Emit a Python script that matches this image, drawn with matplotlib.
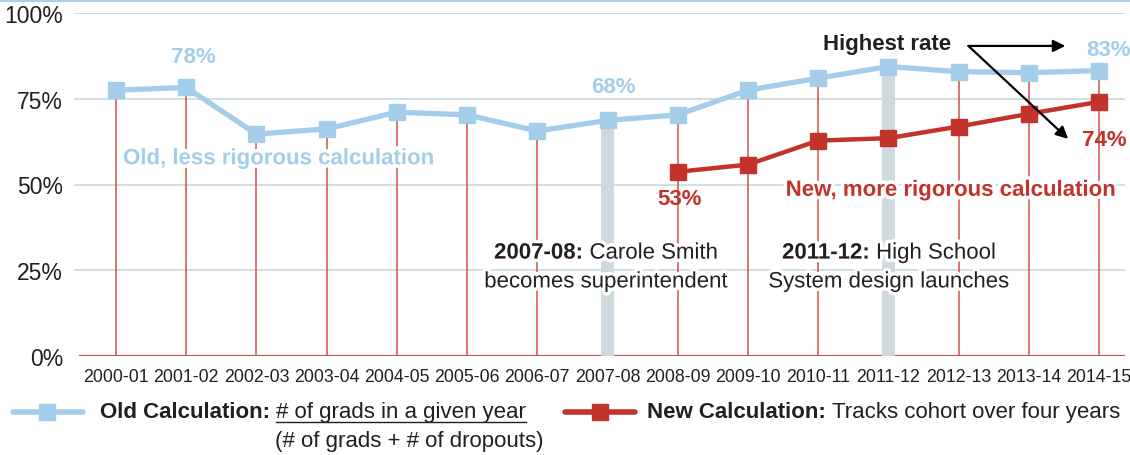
import matplotlib
matplotlib.use("Agg")
import matplotlib.pyplot as plt
import matplotlib.patheffects as pe
from matplotlib import font_manager
from matplotlib.lines import Line2D
from matplotlib.transforms import IdentityTransform

plt.rcParams['font.family'] = ['Liberation Sans', 'DejaVu Sans']

years = ["2000-01", "2001-02", "2002-03", "2003-04", "2004-05", "2005-06", "2006-07",
         "2007-08", "2008-09", "2009-10", "2010-11", "2011-12", "2012-13", "2013-14", "2014-15"]
old_rate = [77.5, 78.3, 64.7, 66.2, 71.1, 70.3, 65.6, 68.7, 70.3, 77.5, 81.0, 84.4, 82.9, 82.6, 83.2]
new_years = years[8:]
new_rate = [53.7, 55.8, 62.8, 63.5, 66.9, 70.6, 74.1]
event_years = ["2007-08", "2011-12"]
yticks = [0, 25, 50, 75, 100]

BLUE = "#a3cde9"
RED = "#c1332b"
DROP = "#d4504a"
GRAY = "#cfd9de"
GRID = "#cddbe4"
INK = "#231f20"

# condensed face for the tick labels, if there is one
try:
    font_manager.findfont(font_manager.FontProperties(family='Liberation Sans Narrow'),
                          fallback_to_default=False)
    NARROW = ['Liberation Sans Narrow']
    xsize, ysize = 15, 19.5
except ValueError:
    NARROW = ['Liberation Sans']
    xsize, ysize = 12.8, 16.5

W, H = 1130, 456
fig = plt.figure(figsize=(W / 100, H / 100), dpi=100)
ax = fig.add_axes([74 / W, (H - 357) / H, (1125 - 74) / W, (357 - 14) / H])

x = list(range(len(years)))
xn = [years.index(y) for y in new_years]
xe = [years.index(y) for y in event_years]

ax.set_xlim(-0.598, 14.37)
ax.set_ylim(0, 100)

for t in yticks[1:]:
    ax.axhline(t, color=GRID, lw=1.3, zorder=0)
ax.axhline(0, xmin=0.006, color=DROP, lw=1.6, zorder=1)

ax.vlines(x, 0, old_rate, color=DROP, lw=1.1, zorder=1)
ax.bar(xe, [old_rate[i] for i in xe], width=0.18, color=GRAY, zorder=1.5)

ax.plot(x, old_rate, color=BLUE, lw=3.8, marker='s', ms=12, zorder=3, clip_on=False)
ax.plot(xn, new_rate, color=RED, lw=3.2, marker='s', ms=11.5, zorder=4, clip_on=False)

ax.set_xticks(x)
ax.set_xticklabels(years, fontsize=xsize, color=INK, family=NARROW)
ax.set_yticks(yticks)
ax.set_yticklabels([f"{t}%" for t in yticks], fontsize=ysize, color=INK, family=NARROW)
ax.tick_params(length=0, pad=8)
ax.tick_params(axis='x', pad=9)
for s in ax.spines.values():
    s.set_visible(False)

halo = [pe.withStroke(linewidth=5, foreground='white')]

ax.text(1.1, 87.2, "78%", color=BLUE, fontsize=16, fontweight='bold', ha='center', va='center')
ax.text(7.08, 78.7, "68%", color=BLUE, fontsize=16, fontweight='bold', ha='center', va='center')
ax.text(14.13, 89.5, "83%", color=BLUE, fontsize=16, fontweight='bold', ha='center', va='center')
ax.text(8.03, 45.8, "53%", color=RED, fontsize=16, fontweight='bold', ha='center', va='center')
ax.text(14.07, 63.0, "74%", color=RED, fontsize=16, fontweight='bold', ha='center', va='center')

ax.text(0.1, 57.5, "Old, less rigorous calculation", color=BLUE, fontsize=16,
        fontweight='bold', ha='left', va='center', path_effects=halo, zorder=5)
ax.text(14.23, 48.3, "New, more rigorous calculation", color=RED, fontsize=16,
        fontweight='bold', ha='right', va='center', path_effects=halo, zorder=5)

ax.text(10.07, 91.0, "Highest rate", color=INK, fontsize=16, fontweight='bold',
        ha='left', va='center', zorder=6)
arrow = dict(arrowstyle='-|>', color='black', lw=1.6, mutation_scale=18, shrinkA=0, shrinkB=0)
ax.annotate("", xy=(13.52, 90.4), xytext=(12.14, 90.4), arrowprops=arrow, zorder=6)
ax.annotate("", xy=(13.56, 63.3), xytext=(12.14, 90.4), arrowprops=arrow, zorder=6)

fig.canvas.draw()
renderer = fig.canvas.get_renderer()


def run(xd, yd, parts, size, color, ha='left', effects=None):
    # lay out mixed bold/regular pieces on one line, in display pixels
    texts = []
    for s, w in parts:
        t = fig.text(0, 0, s, fontsize=size, fontweight=w, color=color, va='center',
                     ha='left', transform=IdentityTransform(), path_effects=effects, zorder=7)
        texts.append(t)
    gap = 0.278 * size * fig.dpi / 72
    widths = [t.get_window_extent(renderer).width for t in texts]
    total = sum(widths) + gap * (len(texts) - 1)
    start = xd - total / 2 if ha == 'center' else xd
    for t, w in zip(texts, widths):
        t.set_position((start, yd))
        start += w + gap
    return texts


def data_px(xv, yv):
    return ax.transData.transform((xv, yv))


def top_px(xp, yp):
    return xp, H - yp


for xc, head, l1, l2 in [(6.98, "2007-08:", "Carole Smith", "becomes superintendent"),
                         (11.01, "2011-12:", "High School", "System design launches")]:
    px, py = data_px(xc, 30.0)
    run(px, py, [(head, 'bold'), (l1, 'normal')], 16, INK, ha='center', effects=halo)
    px, py = data_px(xc, 21.6)
    run(px, py, [(l2, 'normal')], 16, INK, ha='center', effects=halo)

# legend
fig.add_artist(Line2D([13 / W, 46.5 / W, 83 / W], [1 - 413 / H] * 3, color=BLUE, lw=4,
                      marker='s', ms=12, markevery=[1], solid_capstyle='round'))
fig.add_artist(Line2D([565 / W, 600 / W, 635 / W], [1 - 413 / H] * 3, color=RED, lw=4,
                      marker='s', ms=12, markevery=[1], solid_capstyle='round'))

t_old = run(*top_px(100, 413), [("Old Calculation:", 'bold'),
                                ("# of grads in a given year", 'normal')], 16, INK)
bb = t_old[1].get_window_extent(renderer)
fig.add_artist(Line2D([bb.x0, bb.x1], [bb.y0 + 1, bb.y0 + 1], color=INK, lw=1,
                      transform=IdentityTransform()))
run(*top_px(275, 442), [("(# of grads + # of dropouts)", 'normal')], 16, INK)
run(*top_px(647, 413), [("New Calculation:", 'bold'),
                        ("Tracks cohort over four years", 'normal')], 16, INK)

# thin top border
fig.add_artist(Line2D([0, 1], [1 - 1.5 / H] * 2, color="#a8d0ea", lw=1.5))

fig.savefig("out.png", dpi=100)
